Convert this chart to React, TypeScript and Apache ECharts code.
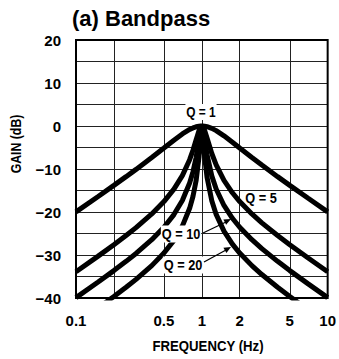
import React, { useEffect, useRef } from "react";
import * as echarts from "echarts";

const freqs = [0.1, 0.15, 0.2, 0.25, 0.3, 0.4, 0.5, 0.6, 0.7, 0.8, 0.85, 0.9, 0.95, 0.98, 1, 1.02, 1.05, 1.1, 1.2, 1.3, 1.5, 1.75, 2, 2.5, 3, 4, 5, 7, 10];
const q1 = [-19.96, -16.38, -13.81, -11.78, -10.09, -7.33, -5.12, -3.3, -1.85, -0.8, -0.44, -0.19, -0.05, -0.01, 0, -0.01, -0.04, -0.16, -0.55, -1.08, -2.29, -3.78, -5.12, -7.33, -9.09, -11.78, -13.81, -16.81, -19.96];
const q5 = [-33.89, -30.26, -27.61, -25.47, -23.64, -20.46, -17.58, -14.69, -11.54, -7.83, -5.64, -3.25, -1.02, -0.17, 0, -0.17, -0.93, -2.81, -6.4, -9.05, -12.64, -15.53, -17.58, -20.46, -22.52, -25.47, -27.61, -30.71, -33.89];
const q10 = [-39.91, -36.28, -33.63, -31.48, -29.64, -26.45, -23.54, -20.6, -17.33, -13.27, -10.67, -7.37, -3.12, -0.66, 0, -0.63, -2.91, -6.67, -11.6, -14.65, -18.48, -21.46, -23.54, -26.45, -28.53, -31.48, -33.63, -36.72, -39.91];
const q20 = [-45.93, -42.3, -39.66, -37.5, -35.66, -32.47, -29.55, -26.59, -23.29, -19.14, -16.4, -12.75, -7.17, -2.18, 0, -2.12, -6.82, -11.93, -17.39, -20.56, -24.45, -27.46, -29.55, -32.47, -34.54, -37.5, -39.66, -42.74, -45.93];

const gridFreqs = [0.1, 0.2, 0.5, 1, 2, 5, 10];
const labelFreqs = [0.1, 0.5, 1, 2, 5, 10];
const seriesNames = ["Q = 1", "Q = 5", "Q = 10", "Q = 20"];

const FONT = "'Liberation Sans', Arial, sans-serif";

export default function App() {
  const ref = useRef<HTMLDivElement>(null);
  useEffect(() => {
    const chart = echarts.init(ref.current!, null, { renderer: "svg" });
    const all = [q1, q5, q10, q20];
    const series = all.map((vals, i) => ({
      name: seriesNames[i],
      type: "line",
      data: freqs.map((f, j) => [Math.log10(f), vals[j]]),
      showSymbol: false,
      symbol: "none",
      clip: true,
      lineStyle: { color: "#000", width: 5 },
      z: 5,
    }));
    const txt = (text: string, x: number, y: number, size: number, sx = 0.88, bg?: string) => ({
      type: "text",
      x,
      y,
      scaleX: sx,
      style: {
        text,
        fill: "#000",
        font: `bold ${size}px ${FONT}`,
        textAlign: "center",
        textVerticalAlign: "middle",
        ...(bg ? { backgroundColor: bg, padding: [1, 1] } : {}),
      },
      z: 10,
    });
    chart.setOption({
      animation: false,
      backgroundColor: "#fff",
      grid: {
        left: 76,
        right: 8,
        top: 40,
        bottom: 61,
        show: true,
        borderColor: "#000",
        borderWidth: 2,
        backgroundColor: "transparent",
        z: 3,
      },
      xAxis: {
        type: "value",
        min: -1,
        max: 1,
        axisLine: { show: false },
        axisTick: { show: false, customValues: gridFreqs.map((f) => Math.log10(f)) },
        splitLine: { show: true, lineStyle: { color: "#222", width: 1 } },
        axisLabel: {
          customValues: labelFreqs.map((f) => Math.log10(f)),
          formatter: (v: number) => String(Math.round(Math.pow(10, v) * 10) / 10),
          color: "#000",
          fontWeight: "bold",
          fontSize: 15,
          fontFamily: FONT,
          margin: 15,
        },
      },
      yAxis: {
        type: "value",
        min: -40,
        max: 20,
        interval: 5,
        axisLine: { show: false },
        axisTick: { show: false },
        splitLine: { show: true, lineStyle: { color: "#222", width: 1 } },
        axisLabel: {
          formatter: (v: number) => (v % 10 === 0 ? (v < 0 ? "\u2212" + -v : String(v)) : ""),
          color: "#000",
          fontWeight: "bold",
          fontSize: 15,
          fontFamily: FONT,
          margin: 15,
        },
      },
      graphic: [
        {
          type: "text",
          left: 72,
          top: 7,
          style: { text: "(a) Bandpass", fill: "#000", font: `bold 22px ${FONT}` },
        },
        txt("FREQUENCY (Hz)", 208, 346, 15),
        { ...txt("GAIN (dB)", 16, 144, 15, 0.82), rotation: Math.PI / 2 },
        txt("Q = 1", 201, 112, 14, 0.85, "#fff"),
        txt("Q = 5", 261, 198, 15, 0.85),
        txt("Q = 10", 181, 234, 15, 0.85, "#fff"),
        txt("Q = 20", 183, 265, 15, 0.85, "#fff"),
        { type: "line", shape: { x1: 203, y1: 233, x2: 226, y2: 222 }, style: { stroke: "#000", lineWidth: 1.2 }, z: 10 },
        { type: "polygon", shape: { points: [[231, 219], [226.1, 224.8], [223.4, 219.4]] }, style: { fill: "#000" }, z: 10 },
        { type: "line", shape: { x1: 204, y1: 262, x2: 226, y2: 250 }, style: { stroke: "#000", lineWidth: 1.2 }, z: 10 },
        { type: "polygon", shape: { points: [[231, 247], [226.4, 253.0], [223.4, 247.8]] }, style: { fill: "#000" }, z: 10 },
      ],
      series,
    });
    return () => chart.dispose();
  }, []);
  return <div ref={ref} style={{ position: "absolute", left: 0, top: 0, width: 339, height: 359 }} />;
}
